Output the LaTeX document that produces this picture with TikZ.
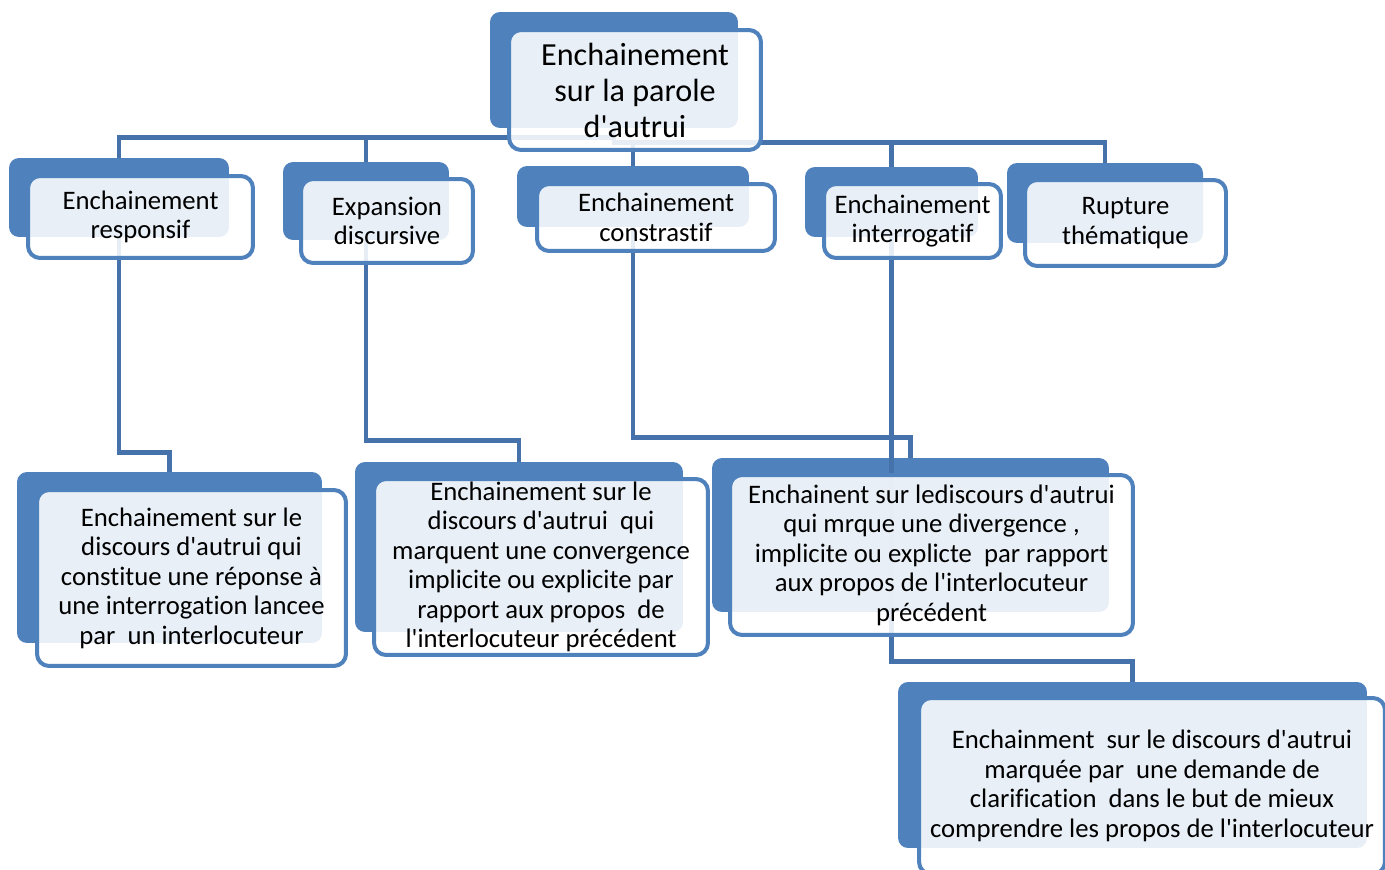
\documentclass[tikz,border=0pt]{standalone}
\usepackage{fontspec}
\setmainfont{Carlito}[Ligatures={TeXOff,NoCommon}]
\definecolor{boxblue}{HTML}{4F81BD}
\definecolor{linkblue}{HTML}{4672AC}

\begin{document}
\begin{tikzpicture}[x=0.02cm,y=-0.02cm,
  back/.style={fill=boxblue,rounded corners=0.2cm,inner sep=0pt},
  front/.style={draw=boxblue,line width=0.08cm,fill=white,fill opacity=0.875,text opacity=1,
    rounded corners=0.24cm,align=center,inner sep=0pt,font=\fontsize{15.2}{16.8}\selectfont},
  link/.style={draw=linkblue,line width=0.09cm}]
\useasboundingbox (0,0) rectangle (1385,869);

% back layers
\node[back,minimum width=4.96cm,minimum height=2.32cm] (rootB) at (614,70) {};
\node[back,minimum width=4.40cm,minimum height=1.58cm] (respB) at (119,197.5) {};
\node[back,minimum width=3.32cm,minimum height=1.56cm] (expaB) at (366,201) {};
\node[back,minimum width=4.64cm,minimum height=1.22cm] (contrB) at (633,196.5) {};
\node[back,minimum width=3.46cm,minimum height=1.40cm] (interB) at (891.5,202) {};
\node[back,minimum width=3.92cm,minimum height=1.60cm] (ruptB) at (1105,203) {};
\node[back,minimum width=6.10cm,minimum height=3.42cm] (reponB) at (169.5,557.5) {};
\node[back,minimum width=6.56cm,minimum height=3.40cm] (convB) at (519,547) {};
\node[back,minimum width=7.94cm,minimum height=3.08cm] (divB) at (910.5,535) {};
\node[back,minimum width=9.38cm,minimum height=3.32cm] (clarB) at (1132.5,765) {};

% connectors
\draw[link] (rootB.south) -- ++(0,9) -| (respB.north);
\draw[link] (rootB.south) -- ++(0,9) -| (expaB.north);
\draw[link] (rootB.south) -- ++(0,14) -| (contrB.north);
\draw[link] (rootB.south) -- ++(0,14) -| (interB.north);
\draw[link] (rootB.south) -- ++(0,14) -| (ruptB.north);
\draw[link] (respB.south) -- ++(0,215) -| (reponB.north);
\draw[link] (expaB.south) -- ++(0,200) -| (convB.north);
\draw[link] (contrB.south) -- ++(0,210) -| (divB.north);
\draw[link] (interB.south) -- ++(0,424) -| (clarB.north);

% front layers
\node[front,minimum width=5.04cm,minimum height=2.40cm,font=\fontsize{18.3}{20.5}\selectfont] (root) at (635,90)
  {Enchainement\\sur la parole\\d'autrui};
\node[front,minimum width=4.50cm,minimum height=1.64cm] (resp) at (140.5,217) {Enchainement\\responsif};
\node[front,minimum width=3.44cm,minimum height=1.68cm] (expa) at (387,221) {Expansion\\discursive};
\node[front,minimum width=4.76cm,minimum height=1.34cm] (contr) at (656,217.5) {Enchainement\\constrastif};
\node[front,minimum width=3.54cm,minimum height=1.48cm] (inter) at (912.5,221) {Enchainement\\interrogatif};
\node[front,minimum width=4.02cm,minimum height=1.72cm] (rupt) at (1125.5,223) {Rupture\\thématique};
\node[front,minimum width=6.18cm,minimum height=3.52cm] (repon) at (191.5,578)
  {Enchainement sur le\\discours d'autrui qui\\constitue une réponse à\\une interrogation lancee\\par~ un interlocuteur};
\node[front,minimum width=6.68cm,minimum height=3.52cm] (conv) at (541,567)
  {Enchainement sur le\\discours d'autrui~ qui\\marquent une convergence\\implicite ou explicite par\\rapport aux propos~ de\\l'interlocuteur précédent};
\node[front,minimum width=8.06cm,minimum height=3.20cm] (div) at (931.5,555)
  {Enchainent sur lediscours d'autrui\\qui mrque une divergence ,\\implicite ou explicte~ par rapport\\aux propos de l'interlocuteur\\précédent};
\node[front,minimum width=9.32cm,minimum height=3.52cm] (clar) at (1152,786)
  {Enchainment~ sur le discours d'autrui\\marquée par~ une demande de\\clarification~ dans le but de mieux\\comprendre les propos de l'interlocuteur};
\end{tikzpicture}
\end{document}
